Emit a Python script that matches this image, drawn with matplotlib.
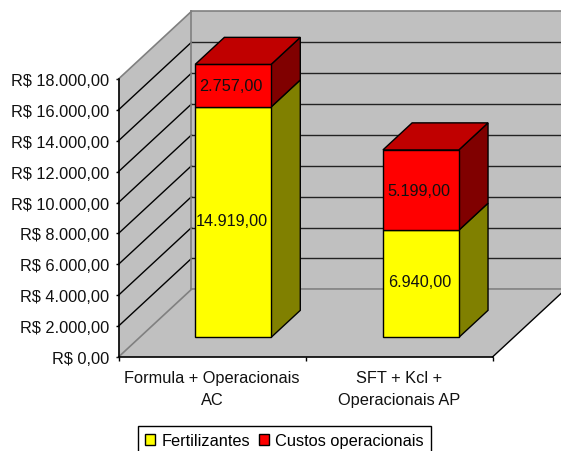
import matplotlib
matplotlib.use('Agg')
import matplotlib.pyplot as plt
from matplotlib.patches import Polygon, Patch

plt.rcParams['font.family'] = ['Liberation Sans', 'DejaVu Sans']

categories = ['Formula + Operacionais\nAC', 'SFT + Kcl +\nOperacionais AP']
fertilizantes = [14919, 6940]
custos = [2757, 5199]
fert_labels = ['14.919,00', '6.940,00']
custo_labels = ['2.757,00', '5.199,00']
y_ticks = [0, 2000, 4000, 6000, 8000, 10000, 12000, 14000, 16000, 18000]
y_labels = ['R$ 0,00', 'R$ 2.000,00', 'R$ 4.000,00', 'R$ 6.000,00', 'R$ 8.000,00',
            'R$ 10.000,00', 'R$ 12.000,00', 'R$ 14.000,00', 'R$ 16.000,00', 'R$ 18.000,00']

# deslocamento da perspectiva 3D, em unidades dos eixos
DEPTH_X = 0.39
DEPTH_Y = 4378
BAR_W = 0.406
BAR_D0 = 0.29
BAR_D1 = 0.69
GRAY = '#c0c0c0'
EDGE = '#808080'


def proj(x, v, d):
    return (x + d * DEPTH_X, v + d * DEPTH_Y)


def face(ax, pts, color, z=3, edge='black'):
    ax.add_patch(Polygon(pts, closed=True, facecolor=color, edgecolor=edge,
                         linewidth=1.0, zorder=z, clip_on=False))


def box(ax, x, v0, v1, front, side, top=None):
    l = x - BAR_W / 2
    r = x + BAR_W / 2
    face(ax, [proj(r, v0, BAR_D0), proj(r, v0, BAR_D1), proj(r, v1, BAR_D1), proj(r, v1, BAR_D0)], side)
    face(ax, [proj(l, v0, BAR_D0), proj(r, v0, BAR_D0), proj(r, v1, BAR_D0), proj(l, v1, BAR_D0)], front)
    if top:
        face(ax, [proj(l, v1, BAR_D0), proj(r, v1, BAR_D0), proj(r, v1, BAR_D1), proj(l, v1, BAR_D1)], top)


fig = plt.figure(figsize=(5.61, 4.52), dpi=100)
ax = fig.add_axes([118.5 / 561, 94 / 452, 374 / 561, 278 / 452])
ax.set_xlim(0, 2)
ax.set_ylim(0, 18000)
ax.patch.set_visible(False)

# paredes e piso
face(ax, [proj(0, 0, 0), proj(0, 0, 1), proj(0, 18000, 1), proj(0, 18000, 0)], GRAY, z=1, edge='none')
face(ax, [proj(0, 0, 1), proj(2, 0, 1), proj(2, 18000, 1), proj(0, 18000, 1)], GRAY, z=1, edge='none')
face(ax, [proj(0, 0, 0), proj(2, 0, 0), proj(2, 0, 1), proj(0, 0, 1)], GRAY, z=1, edge='none')

for t in y_ticks[1:-1]:
    x0, y0 = proj(0, t, 0)
    x1, y1 = proj(0, t, 1)
    x2, y2 = proj(2, t, 1)
    ax.plot([x0, x1], [y0, y1], color='black', lw=1.0, zorder=2, clip_on=False)
    ax.plot([x1, x2], [y1, y2], color='#222222', lw=1.0, zorder=2, clip_on=False)

# contornos cinza das paredes
for a, b in [((0, 0, 0), (0, 0, 1)), ((0, 18000, 0), (0, 18000, 1)), ((0, 0, 1), (0, 18000, 1)),
             ((0, 0, 1), (2, 0, 1)), ((0, 18000, 1), (2, 18000, 1))]:
    p, q = proj(*a), proj(*b)
    ax.plot([p[0], q[0]], [p[1], q[1]], color=EDGE, lw=1.2, zorder=2, clip_on=False)
p, q = proj(2, 0, 0), proj(2, 0, 1)
ax.plot([p[0], q[0]], [p[1], q[1]], color='black', lw=1.0, zorder=2, clip_on=False)

for i in range(len(categories)):
    x = i + 0.5 + 0.004 * i
    f = fertilizantes[i]
    c = custos[i]
    box(ax, x, 0, f, '#ffff00', '#808000')
    box(ax, x, f, f + c, '#ff0000', '#800000', '#c00000')
    tx, ty = proj(x, f / 2, BAR_D0)
    ax.text(tx - 0.006, ty + 120, fert_labels[i], ha='center', va='center', fontsize=11.7, color='#111111', zorder=5)
    tx, ty = proj(x, f + c / 2, BAR_D0)
    ax.text(tx - 0.01, ty, custo_labels[i], ha='center', va='center', fontsize=11.7, color='#111111', zorder=5)

ax.spines['top'].set_visible(False)
ax.spines['right'].set_visible(False)
ax.spines['left'].set_linewidth(1.2)
ax.spines['bottom'].set_linewidth(1.2)

ax.set_yticks(y_ticks)
ax.set_yticklabels(y_labels, fontsize=11.8, color='#111111')
ax.tick_params(axis='y', length=2.5, width=1.0, pad=4.2)
ax.set_xticks([0, 1, 2])
ax.set_xticklabels([])
ax.tick_params(axis='x', which='major', length=3, width=1.0)
ax.set_xticks([0.5, 1.5], minor=True)
ax.set_xticklabels(categories, minor=True, fontsize=11.8, color='#111111', linespacing=1.55)
ax.tick_params(axis='x', which='minor', length=0, pad=9.5)

handles = [Patch(facecolor='#ffff00', edgecolor='black', label='Fertilizantes'),
           Patch(facecolor='#ff0000', edgecolor='black', label='Custos operacionais')]
leg = fig.legend(handles=handles, loc='center', bbox_to_anchor=(284.5 / 561, 1 - 441.5 / 452), ncol=2,
                 frameon=True, fancybox=False, edgecolor='black', framealpha=1, fontsize=11.8,
                 handlelength=0.62, handleheight=0.62, handletextpad=0.4, columnspacing=0.52,
                 borderpad=0.42, borderaxespad=0)
leg.get_frame().set_linewidth(1.0)

fig.savefig('out.png', dpi=100)
